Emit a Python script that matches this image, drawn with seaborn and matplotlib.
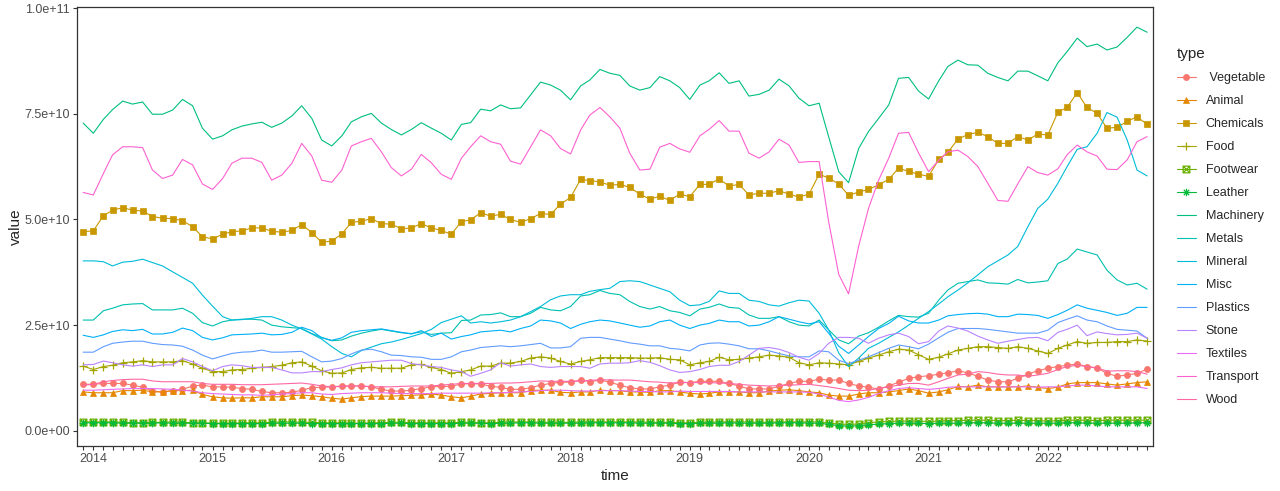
import pandas as pd
import matplotlib
matplotlib.use("Agg")
import matplotlib.pyplot as plt
from matplotlib.path import Path
from matplotlib.ticker import FuncFormatter
import seaborn as sns

# monthly series, values in billions
months = pd.date_range("2013-12-01", periods=108, freq="MS")

types = [" Vegetable", "Animal", "Chemicals", "Food", "Footwear", "Leather",
         "Machinery", "Metals", "Mineral", "Misc", "Plastics", "Stone",
         "Textiles", "Transport", "Wood"]
colors = ["#F8766D", "#E58700", "#C99800", "#A3A500", "#6BB100", "#00BA38",
          "#00BF7D", "#00C0AF", "#00BCD8", "#00B0F6", "#619CFF", "#B983FF",
          "#E76BF3", "#FD61D1", "#FF67A4"]

vegetable = [11.0, 11.0, 11.2, 11.2, 11.2, 10.8, 10.3, 9.4, 9.2, 9.5, 9.8, 10.6, 10.8, 10.4, 10.4, 10.3, 10.0, 9.8,
             9.3, 9.0, 9.0, 9.1, 9.6, 10.2, 10.3, 10.4, 10.6, 10.6, 10.6, 10.4, 9.8, 9.4, 9.4, 9.6, 10.0, 10.4,
             10.5, 10.5, 11.1, 11.1, 11.1, 10.5, 10.3, 9.8, 9.8, 10.2, 10.8, 11.2, 11.5, 11.5, 12.0, 11.6, 12.0, 11.5,
             10.8, 10.2, 9.9, 9.9, 10.4, 10.8, 11.5, 11.4, 11.7, 11.7, 11.7, 11.2, 10.6, 9.9, 9.9, 9.9, 10.5, 11.2,
             11.7, 11.7, 12.2, 12.0, 12.0, 11.2, 10.6, 10.3, 9.9, 10.6, 11.5, 12.4, 12.8, 13.0, 13.4, 13.7, 14.2, 13.7,
             12.9, 12.0, 11.6, 11.6, 12.4, 13.4, 14.2, 14.8, 15.2, 15.5, 15.8, 15.2, 14.8, 13.6, 12.9, 13.2, 13.6, 14.6]
animal = [9.2, 9.0, 9.0, 9.0, 9.5, 9.5, 9.6, 9.2, 9.2, 9.5, 9.5, 9.6, 8.6, 8.05, 7.8, 7.7, 7.8, 7.8,
          8.05, 8.05, 8.05, 8.3, 8.45, 8.3, 8.05, 7.7, 7.5, 7.8, 8.1, 8.2, 8.2, 8.2, 8.3, 8.4, 8.5, 8.7,
          8.45, 8.05, 7.8, 8.2, 8.7, 8.85, 9.0, 9.0, 9.0, 9.5, 9.6, 9.6, 9.1, 9.0, 9.2, 9.2, 9.6, 9.5,
          9.5, 9.2, 9.2, 9.1, 9.5, 9.5, 9.2, 8.85, 8.7, 8.85, 9.2, 9.2, 9.2, 9.0, 9.0, 9.4, 9.6, 9.7,
          9.5, 9.2, 9.0, 8.45, 8.2, 8.2, 8.7, 9.0, 9.0, 9.2, 9.5, 9.9, 9.5, 8.9, 9.2, 9.7, 10.5, 10.4,
          10.8, 10.4, 10.4, 10.4, 10.4, 10.6, 10.3, 10.0, 10.3, 11.1, 11.4, 11.4, 11.4, 11.1, 10.8, 11.1, 11.4, 11.6]
chemicals = [47.1, 47.3, 50.9, 52.2, 52.8, 52.2, 52.0, 50.7, 50.3, 50.2, 49.7, 48.3, 45.9, 45.4, 46.5, 47.1, 47.3, 48.0,
             48.0, 47.2, 47.0, 47.4, 48.8, 46.9, 44.6, 44.9, 46.6, 49.3, 49.6, 50.2, 49.0, 48.9, 47.8, 48.0, 49.0, 48.0,
             47.4, 46.5, 49.5, 49.9, 51.6, 50.8, 51.2, 50.0, 49.3, 50.2, 51.4, 51.2, 53.6, 55.2, 59.5, 59.2, 58.9, 58.1,
             58.3, 57.6, 56.0, 54.8, 55.5, 54.5, 56.0, 55.4, 58.3, 58.3, 59.6, 57.9, 58.3, 55.8, 56.2, 56.2, 56.8, 56.0,
             55.3, 56.0, 60.7, 59.8, 58.4, 55.7, 56.5, 57.1, 58.2, 59.5, 62.1, 61.4, 60.7, 60.2, 64.2, 65.9, 69.0, 70.1,
             70.6, 69.6, 68.0, 68.0, 69.6, 68.8, 70.2, 70.0, 75.4, 76.5, 80.0, 76.5, 75.1, 71.6, 71.8, 73.2, 74.3, 72.5]
food = [15.3, 14.5, 15.2, 15.5, 16.1, 16.3, 16.6, 16.3, 16.3, 16.3, 16.6, 15.8, 14.8, 14.0, 14.0, 14.4, 14.5, 14.8,
        15.0, 15.2, 15.5, 16.1, 16.3, 15.3, 14.2, 13.6, 13.7, 14.5, 14.9, 15.0, 14.8, 14.8, 14.8, 15.6, 15.7, 15.0,
        14.5, 13.6, 14.0, 14.4, 15.3, 15.3, 16.0, 16.0, 16.4, 17.2, 17.5, 17.2, 16.4, 15.8, 16.4, 16.8, 17.3, 17.3,
        17.3, 17.3, 17.2, 17.2, 17.3, 16.9, 16.8, 15.6, 16.1, 16.4, 17.4, 16.8, 16.9, 17.2, 17.5, 17.9, 17.7, 17.4,
        16.1, 15.6, 16.1, 16.0, 15.8, 15.6, 16.4, 17.2, 17.9, 18.7, 19.3, 19.1, 18.0, 16.9, 17.4, 18.2, 19.1, 19.5,
        19.9, 19.9, 19.7, 19.5, 19.9, 19.5, 18.9, 18.3, 19.5, 20.3, 21.1, 20.7, 20.9, 20.9, 21.1, 21.1, 21.5, 21.2]
footwear = [2.1, 2.1, 2.1, 2.1, 2.0, 1.9, 1.9, 2.0, 2.0, 2.1, 2.0, 1.9, 1.9, 1.8, 1.8, 1.8, 1.9, 1.9,
            1.9, 2.0, 2.1, 2.1, 2.0, 2.0, 1.9, 1.9, 1.9, 1.8, 1.8, 1.9, 1.9, 2.0, 2.0, 1.9, 1.9, 1.9,
            1.9, 1.9, 2.0, 2.0, 1.9, 1.9, 2.0, 2.1, 2.1, 2.1, 2.0, 2.0, 2.0, 2.0, 2.1, 2.1, 2.1, 2.1,
            2.1, 2.1, 2.1, 2.0, 2.0, 2.0, 1.9, 1.9, 2.0, 2.0, 2.1, 2.1, 2.1, 2.1, 2.0, 2.0, 2.1, 2.1,
            2.1, 2.1, 2.1, 1.8, 1.6, 1.5, 1.6, 1.9, 2.1, 2.2, 2.3, 2.3, 2.3, 2.2, 2.3, 2.4, 2.4, 2.5,
            2.5, 2.5, 2.4, 2.4, 2.5, 2.4, 2.4, 2.3, 2.4, 2.5, 2.5, 2.5, 2.4, 2.5, 2.5, 2.5, 2.5, 2.5]
leather = [1.9, 1.9, 1.9, 1.9, 1.8, 1.8, 1.8, 1.8, 1.9, 1.8, 1.8, 1.8, 1.8, 1.7, 1.7, 1.7, 1.7, 1.7,
           1.7, 1.8, 1.8, 1.8, 1.8, 1.7, 1.7, 1.7, 1.7, 1.7, 1.7, 1.7, 1.7, 1.8, 1.8, 1.7, 1.7, 1.7,
           1.7, 1.7, 1.8, 1.8, 1.8, 1.7, 1.8, 1.8, 1.9, 1.9, 1.8, 1.8, 1.8, 1.8, 1.8, 1.9, 1.9, 1.9,
           1.9, 1.9, 1.8, 1.8, 1.8, 1.8, 1.7, 1.7, 1.8, 1.8, 1.8, 1.9, 1.8, 1.8, 1.8, 1.8, 1.9, 1.9,
           1.9, 1.8, 1.8, 1.5, 1.2, 1.1, 1.2, 1.4, 1.6, 1.7, 1.8, 1.8, 1.8, 1.7, 1.8, 1.8, 1.8, 1.9,
           1.9, 1.9, 1.8, 1.8, 1.8, 1.8, 1.8, 1.8, 1.8, 1.9, 1.9, 1.8, 1.8, 1.8, 1.8, 1.8, 1.9, 1.9]
machinery = [72.8, 70.4, 73.7, 76.0, 78.0, 77.3, 77.8, 74.9, 74.9, 75.9, 78.4, 76.9, 71.6, 69.0, 69.8, 71.2, 72.1, 72.6,
             73.0, 71.8, 72.8, 74.5, 76.9, 73.9, 68.8, 67.4, 69.8, 73.1, 74.3, 75.1, 72.8, 71.3, 70.0, 71.3, 72.9, 71.6,
             70.4, 68.8, 72.5, 72.9, 76.1, 75.7, 77.1, 76.2, 76.4, 79.5, 82.5, 81.8, 80.6, 78.3, 81.6, 83.0, 85.5, 84.6,
             84.1, 81.6, 80.6, 81.2, 83.8, 82.8, 81.2, 78.4, 81.8, 82.8, 84.7, 82.2, 82.8, 79.2, 79.6, 80.6, 83.2, 81.6,
             78.7, 76.9, 77.5, 69.6, 61.3, 58.7, 66.8, 70.8, 73.9, 77.1, 83.4, 83.6, 80.4, 78.5, 82.8, 86.2, 87.7, 86.6,
             86.5, 84.6, 83.6, 82.8, 85.1, 85.1, 84.0, 82.8, 87.1, 89.7, 92.9, 90.9, 91.5, 90.1, 90.8, 93.1, 95.5, 94.3]
metals = [26.2, 26.2, 28.4, 29.0, 29.8, 30.0, 30.1, 28.6, 28.6, 28.6, 29.0, 27.8, 25.6, 24.8, 25.8, 26.2, 26.4, 26.4,
          26.2, 25.0, 24.6, 24.4, 24.2, 23.0, 22.1, 21.3, 21.5, 22.4, 23.1, 23.6, 24.0, 23.6, 23.2, 23.0, 23.4, 22.8,
          23.1, 23.2, 26.1, 26.2, 27.4, 27.5, 27.9, 27.0, 27.0, 27.8, 29.2, 28.6, 28.4, 29.4, 31.9, 32.2, 33.2, 32.5,
          32.2, 30.6, 29.4, 28.8, 29.4, 28.4, 28.0, 27.2, 28.8, 29.2, 30.0, 29.2, 29.0, 27.4, 26.6, 26.6, 27.0, 25.8,
          25.0, 24.8, 26.2, 23.9, 21.5, 20.6, 22.4, 23.2, 24.5, 26.0, 27.3, 27.0, 26.9, 27.8, 30.9, 33.3, 34.9, 35.3,
          35.7, 35.0, 34.9, 34.7, 35.8, 35.0, 35.2, 35.5, 39.6, 40.6, 43.0, 42.3, 41.6, 38.0, 35.7, 34.5, 34.9, 33.5]
mineral = [40.2, 40.2, 40.0, 39.0, 39.9, 40.1, 40.6, 39.8, 39.0, 37.6, 36.3, 34.9, 32.1, 29.5, 27.0, 26.2, 26.3, 26.6,
           27.0, 27.0, 26.2, 25.0, 24.1, 22.9, 21.7, 19.9, 18.3, 17.5, 19.0, 19.8, 20.6, 21.0, 21.6, 22.3, 23.0, 24.0,
           25.6, 26.4, 27.2, 25.5, 25.8, 25.5, 25.8, 26.2, 27.0, 28.2, 29.4, 31.0, 31.9, 32.2, 32.2, 33.0, 33.4, 33.7,
           35.3, 35.5, 35.3, 34.5, 33.7, 32.9, 30.9, 29.6, 29.8, 30.6, 33.1, 32.5, 32.5, 30.9, 30.6, 29.8, 29.5, 30.3,
           30.9, 30.7, 27.8, 23.9, 18.4, 15.2, 17.2, 19.5, 20.7, 22.1, 23.4, 25.0, 26.6, 28.2, 30.0, 31.7, 33.3, 35.0,
           36.9, 38.8, 40.2, 41.6, 43.6, 48.3, 52.6, 54.8, 58.6, 62.5, 66.6, 67.2, 70.4, 75.3, 74.2, 68.8, 61.7, 60.3]
misc = [22.6, 22.1, 22.7, 23.5, 23.9, 23.7, 24.0, 22.9, 22.9, 23.3, 24.3, 23.7, 22.1, 21.5, 22.0, 22.7, 22.8, 22.9,
        23.1, 22.7, 22.8, 23.3, 24.5, 23.7, 22.0, 21.4, 22.0, 23.3, 23.7, 23.9, 24.1, 23.7, 23.3, 22.9, 23.7, 22.3,
        23.1, 21.7, 22.3, 22.7, 23.4, 23.6, 23.8, 23.4, 24.2, 24.8, 26.2, 26.0, 25.5, 24.2, 25.2, 25.8, 26.2, 26.0,
        25.5, 25.0, 24.5, 24.8, 25.8, 26.2, 25.0, 24.2, 25.0, 25.4, 26.2, 25.8, 25.8, 24.8, 25.0, 25.8, 27.0, 26.4,
        25.8, 25.3, 25.8, 23.1, 20.0, 18.3, 20.3, 22.3, 24.2, 25.4, 27.1, 26.0, 25.5, 25.5, 26.2, 27.2, 27.5, 27.7,
        27.8, 27.6, 27.0, 27.0, 27.6, 27.5, 27.3, 26.6, 27.5, 28.5, 29.8, 29.0, 28.5, 28.0, 27.3, 27.8, 29.2, 29.2]
plastics = [18.6, 18.6, 19.9, 20.7, 21.0, 21.2, 21.2, 20.7, 20.4, 20.3, 20.0, 19.1, 17.9, 17.0, 17.7, 18.3, 18.6, 18.7,
            19.1, 18.6, 18.6, 18.7, 18.8, 17.5, 16.3, 16.5, 17.1, 18.2, 19.1, 19.3, 18.7, 17.9, 17.8, 17.5, 17.4, 16.9,
            16.9, 17.5, 18.7, 19.1, 19.7, 19.9, 20.1, 19.9, 20.1, 20.4, 20.7, 19.6, 19.6, 19.9, 21.9, 22.1, 22.1, 21.7,
            21.3, 20.8, 20.5, 20.1, 20.1, 19.5, 19.3, 18.9, 20.3, 20.7, 20.8, 20.5, 20.1, 19.4, 19.4, 18.9, 18.3, 17.7,
            17.5, 17.5, 18.9, 18.7, 16.7, 15.9, 16.7, 17.5, 18.5, 19.5, 20.3, 19.9, 19.4, 20.5, 22.0, 23.3, 24.2, 24.2,
            24.2, 24.0, 23.7, 23.4, 23.1, 23.1, 23.1, 23.8, 25.6, 26.4, 27.2, 26.2, 25.8, 24.8, 24.0, 23.8, 23.6, 21.9]
stone = [15.6, 15.7, 16.5, 16.1, 15.6, 15.3, 15.6, 15.2, 15.6, 15.6, 17.1, 16.3, 15.2, 14.2, 15.2, 15.6, 15.4, 15.0,
         15.0, 15.0, 14.4, 13.7, 13.7, 14.0, 14.0, 14.5, 14.9, 15.6, 16.1, 16.3, 16.5, 16.7, 16.7, 15.9, 15.6, 15.2,
         15.0, 14.4, 14.0, 12.9, 13.6, 14.4, 16.1, 15.3, 15.6, 15.8, 15.2, 15.0, 15.2, 15.2, 15.2, 14.8, 15.8, 16.0,
         16.0, 16.1, 16.6, 16.2, 15.4, 14.4, 13.8, 14.0, 14.5, 15.2, 15.5, 15.5, 16.4, 17.9, 19.5, 19.7, 19.3, 18.5,
         17.4, 16.7, 18.3, 20.7, 22.1, 22.1, 21.9, 20.7, 21.9, 22.7, 23.1, 22.3, 20.6, 21.1, 23.6, 24.8, 24.3, 23.6,
         22.4, 21.5, 20.7, 21.2, 21.6, 22.0, 22.1, 21.3, 23.3, 24.0, 25.0, 22.5, 23.4, 23.0, 22.7, 22.8, 23.1, 21.9]
textiles = [9.6, 9.6, 9.7, 9.8, 9.9, 10.0, 10.0, 10.0, 9.9, 9.8, 9.6, 9.4, 9.0, 8.8, 8.7, 8.6, 8.5, 8.5,
            8.4, 8.5, 8.7, 8.8, 9.0, 9.0, 8.7, 8.6, 8.8, 8.9, 9.0, 9.0, 9.0, 8.9, 8.8, 8.8, 8.8, 8.8,
            8.9, 8.9, 8.9, 8.9, 8.9, 9.0, 9.0, 9.1, 9.2, 9.3, 9.5, 9.6, 9.6, 9.5, 9.4, 9.4, 9.5, 9.5,
            9.5, 9.4, 9.3, 9.3, 9.2, 9.2, 9.4, 9.3, 9.3, 9.3, 9.3, 9.3, 9.2, 9.2, 9.2, 9.2, 9.2, 9.2,
            9.2, 9.1, 8.7, 8.0, 7.2, 6.9, 7.3, 7.9, 8.8, 9.5, 10.0, 10.2, 10.0, 9.8, 10.0, 10.3, 10.4, 10.4,
            10.4, 10.4, 10.4, 10.4, 10.4, 10.4, 10.3, 10.4, 10.4, 10.6, 10.8, 10.8, 10.6, 10.4, 10.4, 10.4, 10.4, 10.0]
transport = [56.4, 55.8, 60.9, 65.3, 67.2, 67.2, 67.0, 61.7, 59.7, 60.5, 64.2, 62.9, 58.4, 57.1, 59.7, 63.3, 64.5, 64.5,
             63.5, 59.3, 60.5, 63.3, 68.0, 65.0, 59.3, 58.8, 61.7, 67.4, 68.4, 69.2, 66.0, 62.3, 60.3, 61.9, 65.4, 63.4,
             60.7, 59.5, 64.5, 67.2, 69.8, 68.4, 67.8, 63.8, 63.1, 67.2, 71.2, 69.8, 66.8, 65.5, 71.2, 74.7, 76.5, 74.3,
             71.6, 65.7, 61.7, 61.9, 67.1, 68.0, 66.7, 65.9, 69.8, 71.3, 73.4, 70.9, 70.9, 65.7, 64.5, 66.0, 69.0, 67.6,
             63.5, 63.7, 63.7, 49.5, 37.0, 32.4, 43.7, 52.6, 59.3, 64.5, 70.4, 70.6, 65.8, 61.3, 64.0, 66.0, 66.4, 64.9,
             62.5, 58.6, 54.5, 54.3, 58.4, 62.5, 61.1, 60.5, 62.0, 65.3, 67.6, 66.0, 65.0, 61.9, 61.8, 64.1, 68.4, 69.6]
wood = [10.8, 11.0, 11.6, 11.9, 12.1, 12.2, 12.2, 11.8, 11.6, 11.6, 11.6, 11.6, 11.2, 11.0, 11.0, 11.0, 10.9, 10.9,
        10.9, 11.0, 11.1, 11.2, 11.3, 11.0, 10.6, 10.4, 10.5, 10.6, 10.6, 10.4, 10.4, 10.4, 10.5, 10.6, 10.6, 10.6,
        10.8, 11.0, 11.2, 11.2, 11.2, 11.2, 11.3, 11.3, 11.4, 11.6, 11.8, 11.7, 11.7, 11.7, 11.8, 11.9, 12.1, 12.0,
        12.0, 12.0, 11.8, 11.6, 11.5, 11.3, 11.4, 11.4, 11.4, 11.4, 11.3, 11.2, 11.0, 10.8, 10.7, 10.6, 10.7, 10.8,
        10.9, 11.0, 10.7, 10.4, 10.0, 9.6, 9.5, 9.6, 10.0, 10.4, 10.8, 11.2, 11.2, 10.8, 11.6, 12.4, 13.2, 13.4,
        14.0, 13.8, 13.4, 13.2, 13.2, 12.9, 13.2, 13.6, 14.5, 15.2, 15.5, 15.2, 14.9, 14.1, 14.2, 14.2, 14.0, 13.4]

series = [vegetable, animal, chemicals, food, footwear, leather, machinery, metals,
          mineral, misc, plastics, stone, textiles, transport, wood]
for s in series:
    assert len(s) == len(months), len(s)

df = pd.concat([pd.DataFrame({"time": months, "value": [v * 1e9 for v in s], "type": t})
                for t, s in zip(types, series)], ignore_index=True)

# ggplot-like shapes 7 (boxed x) and 8 (asterisk)
M, L, C = Path.MOVETO, Path.LINETO, Path.CLOSEPOLY
boxed_x = Path([(-1, -1), (1, -1), (1, 1), (-1, 1), (-1, -1), (-1, -1), (1, 1), (-1, 1), (1, -1)],
               [M, L, L, L, C, M, L, M, L])
asterisk = Path([(-1, 0), (1, 0), (0, -1), (0, 1), (-.72, -.72), (.72, .72), (-.72, .72), (.72, -.72)],
                [M, L, M, L, M, L, M, L])
markers = {" Vegetable": ("o", 4.4, True), "Animal": ("^", 4.8, True), "Chemicals": ("s", 4.2, True),
           "Food": ("+", 6.2, False), "Footwear": (boxed_x, 4.8, False), "Leather": (asterisk, 5.4, False)}

sns.set_style("white")
plt.rcParams["font.family"] = ["Liberation Sans", "DejaVu Sans"]

fig = plt.figure(figsize=(12.8, 4.91), dpi=100)
ax = fig.add_axes([77.3 / 1280, 1 - 446 / 491, (1153 - 77.3) / 1280, (446 - 7.3) / 491])

for t, col in zip(types, colors):
    sub = df[df["type"] == t]
    kw = dict(color=col, linewidth=0.8, label=t)
    if t in markers:
        mk, ms, filled = markers[t]
        kw.update(marker=mk, markersize=ms, markeredgecolor=col,
                  markerfacecolor=col if filled else "none",
                  markeredgewidth=0.5 if filled else 0.9)
    sns.lineplot(data=sub, x="time", y="value", estimator=None, errorbar=None,
                 ax=ax, legend=False, **kw)

ax.set_xlim(months[0] - pd.Timedelta(days=18), months[-1] + pd.Timedelta(days=18))
ax.set_ylim(-3.6e9, 1.002e11)
ax.set_xticks(months)
ax.set_xticklabels([str(d.year) if d.month == 1 else "" for d in months])
ax.set_yticks([0, 2.5e10, 5e10, 7.5e10, 1e11])
ax.yaxis.set_major_formatter(FuncFormatter(lambda v, _: f"{v:.1e}"))
ax.tick_params(axis="both", bottom=True, left=True, length=3.2, width=0.8, color="#333333",
               labelsize=9, labelcolor="#4D4D4D", pad=2, direction="out")
for sp in ax.spines.values():
    sp.set_color("#333333")
    sp.set_linewidth(0.9)
ax.set_xlabel("time", fontsize=11, labelpad=3)
ax.set_ylabel("value", fontsize=11, labelpad=1)
ax.grid(False)

handles, labels = ax.get_legend_handles_labels()
fig.legend(handles, labels, loc="upper left", bbox_to_anchor=(1172 / 1280, 1 - 42 / 491),
           frameon=False, title="type", alignment="left", fontsize=9, title_fontsize=11,
           handlelength=1.5, labelspacing=0.88, handletextpad=0.8, borderaxespad=0)

fig.savefig("out.png", dpi=100)
